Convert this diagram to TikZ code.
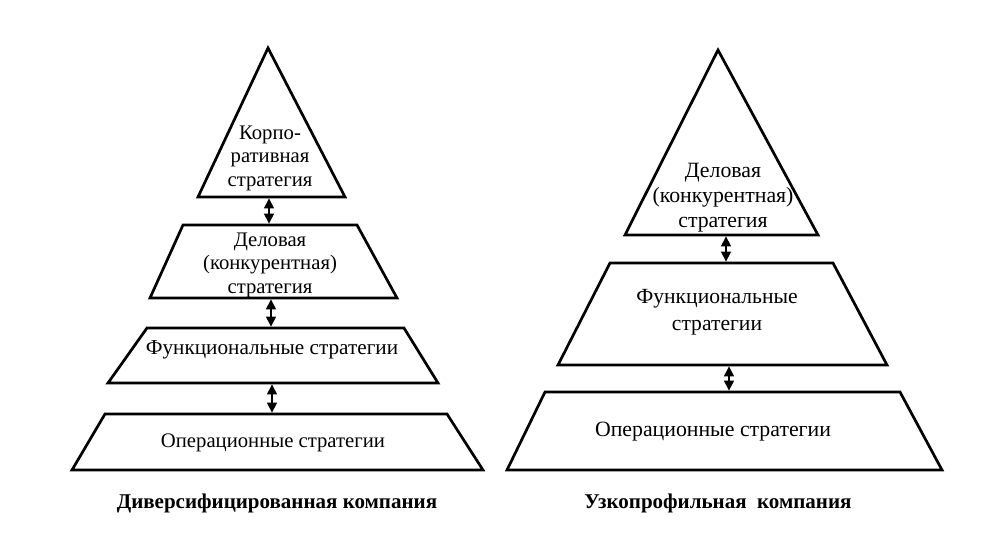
\documentclass[tikz,border=0pt]{standalone}
\usepackage{fontspec}
\setmainfont{Liberation Serif}
\usetikzlibrary{arrows.meta}
\begin{document}
\begin{tikzpicture}[x=1pt,y=-1pt,
  shp/.style={line width=2.7pt, line join=miter},
  lbl/.style={font=\fontsize{20.7}{23.5}\selectfont, align=center, inner sep=0pt},
  rlbl/.style={font=\fontsize{21.8}{25}\selectfont, align=center, inner sep=0pt},
  captxt/.style={font=\fontsize{21}{24}\selectfont\bfseries, inner sep=0pt},
  link/.style={line width=1.2pt, {Triangle[width=10pt,length=10pt]}-{Triangle[width=10pt,length=10pt]}, shorten <=1.4pt, shorten >=1.4pt}]
\useasboundingbox[fill=white] (0,0) rectangle (998,552);

% left pyramid
\draw[shp] (268,48) -- (345,197) -- (198,197) -- cycle;
\draw[shp] (183,225) -- (357,225) -- (397,298) -- (150,298) -- cycle;
\draw[shp] (147,328) -- (404,328) -- (438,383) -- (108,383) -- cycle;
\draw[shp] (105,414) -- (447,414) -- (483,470) -- (72,470) -- cycle;

\node[lbl] (l1) at (270,158) {Корпо-\\ративная\\стратегия};
\node[lbl] (l2) at (270,265) {Деловая\\(конкурентная)\\стратегия};
\node[lbl, font=\fontsize{21.2}{24}\selectfont] (l3) at (272,350) {Функциональные стратегии};
\node[lbl] (l4) at (273,443) {Операционные стратегии};
\node[captxt] (lc) at (277,503) {Диверсифицированная компания};

\coordinate (la1) at (269,197); \coordinate (lb1) at (269,225);
\coordinate (la2) at (271,298); \coordinate (lb2) at (271,328);
\coordinate (la3) at (272,383); \coordinate (lb3) at (272,414);
\draw[link] (la1) -- (lb1);
\draw[link] (la2) -- (lb2);
\draw[link] (la3) -- (lb3);

% right pyramid
\draw[shp] (718,50) -- (818,235) -- (625,235) -- cycle;
\draw[shp] (610,263) -- (833,263) -- (887,365) -- (558,365) -- cycle;
\draw[shp] (545,392) -- (900,392) -- (942,470) -- (507,470) -- cycle;

\node[rlbl] (r1) at (723,198) {Деловая\\(конкурентная)\\стратегия};
\node[rlbl, font=\fontsize{21.6}{27}\selectfont] (r2) at (717,312) {Функциональные\\стратегии};
\node[rlbl] (r3) at (713,432) {Операционные стратегии};
\node[captxt] (rc) at (718,503) {Узкопрофильная\hspace{0.5em}компания};

\coordinate (ra1) at (726,235); \coordinate (rb1) at (726,263);
\coordinate (ra2) at (729,365); \coordinate (rb2) at (729,392);
\draw[link] (ra1) -- (rb1);
\draw[link] (ra2) -- (rb2);
\end{tikzpicture}
\end{document}
